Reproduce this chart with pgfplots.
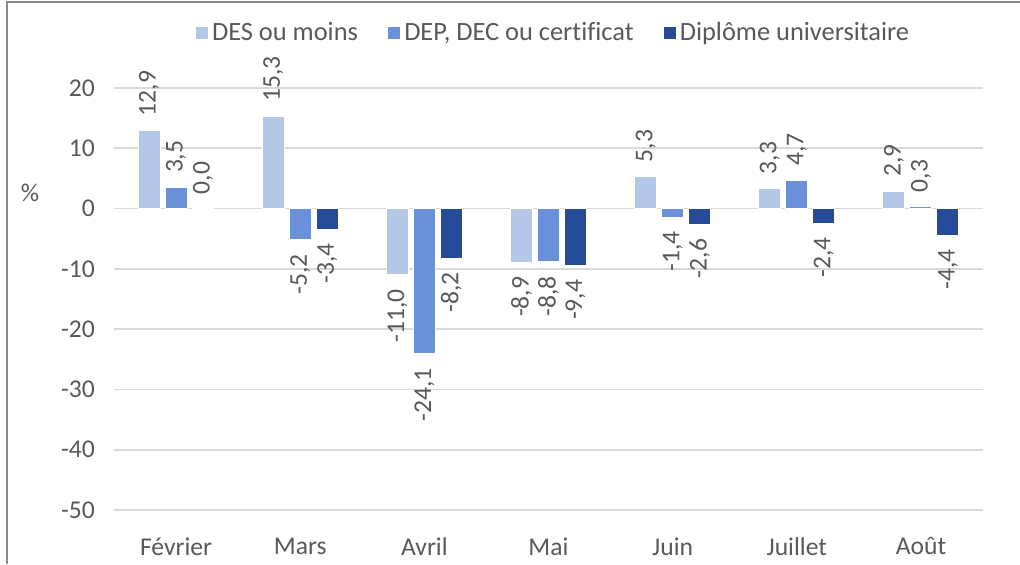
\documentclass[border=0pt]{standalone}
\usepackage{fontspec}
\setmainfont{Carlito}[Ligatures=NoCommon]
\usepackage{pgfplots}
\pgfplotsset{compat=1.18}
\definecolor{cA}{RGB}{180,199,231}
\definecolor{cB}{RGB}{106,144,218}
\definecolor{cC}{RGB}{38,76,153}
\definecolor{txt}{RGB}{89,89,89}
\definecolor{grd}{RGB}{217,217,217}
\definecolor{brd}{RGB}{140,140,140}
\newcommand\ff{\fontsize{12.8pt}{14pt}\selectfont}
\newcommand\fl{\fontsize{13.2pt}{15pt}\selectfont}
\begin{document}
\begin{tikzpicture}
\useasboundingbox (0,0) rectangle (510pt,282pt);
\draw[brd, line width=0.7pt] (3.5pt,0pt) -- (3.5pt,281pt) -- (510pt,281pt);
\begin{axis}[
  at={(57pt,27pt)}, anchor=south west,
  scale only axis, width=434.5pt, height=211pt,
  ybar=2.5pt, bar width=11pt,
  xmin=-0.5, xmax=6.5, ymin=-50, ymax=20,
  xtick={0,...,6},
  xticklabels={Février,Mars,Avril,Mai,Juin,Juillet,Août},
  ytick={-50,-40,...,20},
  axis line style={draw=none}, tick style={draw=none},
  ymajorgrids, grid style={grd, line width=0.8pt},
  /pgf/number format/assume math mode=true,
  ticklabel style={font=\ff, text=txt},
  yticklabel style={xshift=-6pt},
  xticklabel style={yshift=-6pt},
  clip=false,
  nodes near coords={\pgfmathprintnumber[fixed,fixed zerofill,precision=1,use comma,assume math mode=true]{\pgfplotspointmeta}},
  visualization depends on={y \as \rawy},
  every node near coord/.append style={rotate=90, font=\ff, text=txt, inner xsep=7pt,
     /utils/exec={\pgfmathparse{\rawy<0}\ifnum\pgfmathresult=1 \gdef\myanc{east}\else\gdef\myanc{west}\fi},
     anchor=\myanc},
  legend style={draw=none, fill=none, at={(0.5,1)}, anchor=center, xshift=3pt, yshift=27.5pt,
     font=\fl, text=txt, legend columns=3,
     /tikz/every even column/.append style={column sep=13pt}},
]
\addplot[fill=cA, draw=white, line width=0.5pt,
  legend image code/.code={\fill[cA] (-1.5pt,-2.8pt) rectangle (4.1pt,2.8pt);}]
  coordinates {(0,12.9) (1,15.3) (2,-11.0) (3,-8.9) (4,5.3) (5,3.3) (6,2.9)};
\addplot[fill=cB, draw=white, line width=0.5pt,
  legend image code/.code={\fill[cB] (-1.5pt,-2.8pt) rectangle (4.1pt,2.8pt);}]
  coordinates {(0,3.5) (1,-5.2) (2,-24.1) (3,-8.8) (4,-1.4) (5,4.7) (6,0.3)};
\addplot[fill=cC, draw=white, line width=0.5pt,
  legend image code/.code={\fill[cC] (-1.5pt,-2.8pt) rectangle (4.1pt,2.8pt);}]
  coordinates {(0,0.0) (1,-3.4) (2,-8.2) (3,-9.4) (4,-2.6) (5,-2.4) (6,-4.4)};
\legend{DES ou moins, {DEP, DEC ou certificat}, Diplôme universitaire}
\end{axis}
\node[font=\ff, text=txt] at (15pt,185.5pt) {\%};
\end{tikzpicture}
\end{document}
